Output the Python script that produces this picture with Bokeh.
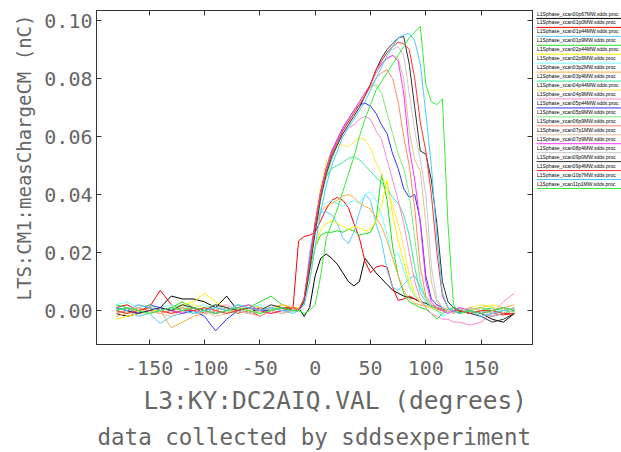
from bokeh.plotting import figure
from bokeh.models import (Range1d, FixedTicker, LinearAxis, Title, ColumnDataSource,
                          NumeralTickFormatter, LabelSet)
from bokeh.layouts import row
from bokeh.embed import file_html
from bokeh.resources import INLINE
from bokeh.core.properties import value

# ---------------- data (charge in pC, phase in degrees) ----------------
phase_deg = [-180, -170, -160, -150, -140, -130, -120, -110, -100, -90, -80, -70, -60, -50, -40, -30, -20,
             -15, -10, -5, 0, 5, 10, 15, 20, 25, 30, 35, 40, 45, 50, 55, 60, 65, 70, 75, 80, 85, 90, 95, 100,
             105, 110, 115, 120, 125, 130, 140, 150, 160, 170, 180]

file_names = [
    "L1Sphase_xcan00p67MW.sdds.proc", "L1Sphase_xcan01p0MW.sdds.proc", "L1Sphase_xcan01p44MW.sdds.proc",
    "L1Sphase_xcan01p9MW.sdds.proc", "L1Sphase_xcan02p44MW.sdds.proc", "L1Sphase_xcan02p9MW.sdds.proc",
    "L1Sphase_xcan03p2MW.sdds.proc", "L1Sphase_xcan03p4MW.sdds.proc", "L1Sphase_xcan04p44MW.sdds.proc",
    "L1Sphase_xcan04p9MW.sdds.proc", "L1Sphase_xcan05p44MW.sdds.proc", "L1Sphase_xcan05p9MW.sdds.proc",
    "L1Sphase_xcan06p9MW.sdds.proc", "L1Sphase_xcan07p1MW.sdds.proc", "L1Sphase_xcan07p9MW.sdds.proc",
    "L1Sphase_xcan08p4MW.sdds.proc", "L1Sphase_xcan09p0MW.sdds.proc", "L1Sphase_xcan09p4MW.sdds.proc",
    "L1Sphase_xcan10p7MW.sdds.proc", "L1Sphase_xcan11p1MW.sdds.proc",
]

line_colors = ["#000000", "#ff0000", "#55ccff", "#22dd22", "#ffee00", "#77ffff", "#ffaa44", "#33ee99",
               "#ffe844", "#ff88cc", "#3333ff", "#77ee77", "#ff8866", "#ddc0a0", "#ff33ff", "#c8c8c8",
               "#333333", "#ff3333", "#44ccff", "#33ee33"]

c00p67 = [-1, -2, -1, 0, 1, 5, 4, 4, 3, 1, 5, 0, -1, 1, 0, 1, 0,
          1, -2, 1, 12, 18, 19.5, 18, 16, 13, 10, 8.5, 10, 18, 15.5, 13, 11, 9, 7, 6, 5, 4.5, 4, 3, 2.5,
          1.5, 1, 0.5, 0, 0, -0.5, 0, -1, -3, -4, -1]
c01p0 = [1, 2, 0, 1, 7, 2, 0, 1, -1, 0, 1, -1, 0, -2, 0, 1, 1,
         24, 25.5, 26, 27, 31, 35, 38, 39, 38, 35.5, 30, 25, 17, 13, 15, 15.5, 15, 8, 3.5, 4, 5, 4, 3, 1.5,
         1, 0.5, 0, 0, -0.5, 0, -1, 0, -1, -1.5, -1]
c01p44 = [-1, 0, -2, -1, -4.5, -2, -1, 0, 1, -1, 0, 1, 0, -1, 1, 0, -1,
          0, 3, 20, 30, 34, 34, 33, 30, 25, 23, 27, 34, 40, 38, 30, 24, 14, 8, 7, 9, 11, 12, 8, 4,
          2, 1, 0, -1, 0, 0.5, 0, -1, 0, 1, 0.5]
c01p9 = [2, 1, 0, -1, 0, 1, 3, 1, 0, -1, 0, 2, 1, 3, 5, 2, 1,
         0, 2, 14, 22, 26, 27, 27, 27.5, 27, 28, 27.5, 26, 26.5, 27, 31, 47, 38, 22, 12, 6, 3, 2, 1, 0.5,
         -1, -3, -1, 0, 1, 0, -1, 0, 1, 0, -0.5]
c02p44 = [-3, -2, -1, 0, 0, -1, 2, 3, 6, 3, 1, 0, 2, 1, 0, 2, 1,
          1, 3, 10, 22, 28, 30, 31, 30, 29, 28, 29, 28.5, 27.5, 28, 31, 36, 45, 33, 24, 17, 9, 5, 3, 1.5,
          1, 0, 0.5, 1, 0, -1, 0, 1, 2, 1, 0]
c02p9 = [2, 3, 1, 0, 1, 2, 0, 1, 2, 0, -1, 0, 1, 2, 0, 1, 0,
         0, 4, 16, 30, 35, 37, 38, 37, 36, 37, 38, 37, 40, 41, 38, 33, 26, 18, 20, 14, 8, 5, 3, 2,
         1, 0, -2, -1, 0, 1, 0, -1, 0, 0, 1]
c03p2 = [0, -1, 0, 1, 0, -6, -4, -2, -1, 0, 1, 0, -1, 0, 1, 2, 1,
         1, 3, 15, 28, 34, 36, 37, 38, 39.5, 40, 39, 37, 36, 35, 32, 29, 24, 18, 12, 7, 4, 2.5, 2, 1.5,
         1, 2, 1, 0, 1, 0, 0.5, 1, 0, 1, 2]
c03p4 = [0, 1, -1, 0, 1, 0, 1, -1, 0, 1, 0, -1, 1, 0, 1, 0, 0,
         0, 3, 16, 30, 40, 46, 49, 50, 51, 52.5, 53, 52, 50, 48, 46, 44, 42, 39, 37, 33, 26, 15, 6, 3,
         1.5, 1, 0, 0.5, 1, 0, -1, 0, 1, 0, 0.5]
c04p44 = [-2, -1, 0, 1, 0, 1, 0, 2, 1, 0, -1, 1, 0, -1, 0, 1, 0,
          1, 4, 17, 31, 43, 51, 55, 57, 57, 56.5, 58, 59.5, 59, 56, 51, 47, 42, 36, 30, 22, 12, 6, 3, 1.5,
          1, 0.5, 1, 0, -1, 0, 1, 2, 1, 0, 1]
c04p9 = [1, 0, 2, 1, 0, -1, 0, 1, 0, 1, 2, 0, -1, 0, 1, 0, 1,
         0, 4, 17, 30, 41, 49, 54, 58, 61, 63, 64, 66, 67, 66, 62, 59, 52, 45, 38, 30, 20, 10, 4, 1,
         -1, -2, -3, -3, -4, -4, -5, -4, -1, 3, 6]
c05p44 = [0, 1, -1, 2, 1, 0, -1, 0, -2, -7, -3, 0, 1, 0, 0, 1, 0,
          0, 4, 17, 30, 41, 49, 55, 59, 63, 66, 69, 71, 71.5, 70.5, 68, 64, 61, 54, 49, 42, 39, 40, 31, 12,
          4, 2, 1, 0, 0, -1, 0, -1, -2, -1, 0]
c05p9 = [0, -1, 1, 2, 0, 1, 2, 0, 1, 2, 0, 1, 2, 1, 0, 1, 0,
         0, 3, 14, 27, 38, 46, 52, 57, 62, 66, 69, 72, 75, 77, 78, 75, 68, 61, 54, 49, 40, 25, 10, 4,
         1, 0, -1, 0, 1, 0, 0.5, 1, 0, -1, 0]
c06p9 = [-1, 0, 1, 0, -1, 0, 1, 0, -1, 0, 1, -1, 0, 1, 0, -1, 0,
         0, 4, 16, 29, 40, 48, 54, 58, 62, 65, 68, 71, 74, 77, 80, 82, 83, 80, 72, 60, 50, 35, 15, 5,
         2, 1, 0, 0, -1, 0, 1, 0, -1, 0, 1]
c07p1 = [-2, -1, 0, 0, -1, -2, 0, 1, 0, -2, -1, 0, -1, -2, 0, -1, 0,
         0, 4, 15, 28, 40, 48, 54, 58, 62, 65, 68, 71, 74, 78, 82, 85, 87, 88, 87, 80, 62, 52, 48, 30,
         10, 3, 1, 0, 0, 1, 0, -1, -2, -1, 0]
c07p9 = [1, 0, -1, 0, 1, 0, -1, 1, 0, -1, 0, 1, 2, 0, -1, 0, 0,
         0, 4, 17, 30, 41, 49, 55, 59, 63, 66, 69, 72, 75, 78, 82, 85, 87, 88, 86, 75, 56, 45, 30, 10,
         3, 1, 0, -1, 0, 1, 0, -1, 0, 1, 0]
c08p4 = [0, 1, 0, -1, 0, 1, 0, -1, -1, 0, 1, 0, -1, 0, 1, 0, 0,
         0, 3, 15, 28, 40, 48, 54, 58, 62, 65, 68, 71, 74, 78, 82, 86, 89, 90, 91, 88, 75, 62, 52, 40,
         15, 4, 1, 0, -1, 0, 1, 0, -1, 0, 1]
c09p0 = [1, 0, -1, 0, 1, 0, 2, 1, 0, 2, 1, 0, 1, 0, 2, 1, 0,
         0, 3, 14, 27, 39, 47, 53, 57, 61, 64, 67, 70, 74, 78, 83, 87, 90, 92, 94, 94.5, 85, 70, 55, 54,
         45, 30, 10, 3, 1, 0, -1, -2, -4, -3, -1]
c09p4 = [0, -1, 0, 1, 0, -1, 0, 0, 1, 0, -1, 0, 1, 0, -1, 0, 1,
         0, 4, 16, 29, 40, 48, 54, 58, 62, 65, 68, 71, 74, 78, 83, 86, 89, 91, 92.5, 92, 90, 80, 65, 55,
         40, 20, 5, 1, 0, 0, -1, 0, 0, -1, -1]
c10p7 = [1, 0, 2, 1, 0, 1, 0, -1, 0, 1, 0, 2, 1, 0, 1, 0, 0,
         0, 2, 10, 22, 34, 43, 50, 55, 60, 63, 66, 69, 72, 76, 80, 84, 88, 91, 94, 95, 95.5, 93, 85, 68,
         50, 25, 6, 1, 0, -1, 0, -2, -1, 0, 0.5]
c11p1 = [0, 1, 0, -1, 0, 1, 0, 1, 0, -1, 0, 1, 0, -1, 0, 1, 0,
         0, -1, 0, 2, 12, 25, 30, 35, 41, 47, 53, 60, 66, 71, 76, 79, 82, 85, 88, 91, 94, 96, 98, 78,
         72, 71, 73, 30, 2, -1, 0, -1, 0, 1, 0]

charge_series_pC = [c00p67, c01p0, c01p44, c01p9, c02p44, c02p9, c03p2, c03p4, c04p44, c04p9,
                    c05p44, c05p9, c06p9, c07p1, c07p9, c08p4, c09p0, c09p4, c10p7, c11p1]

x_ticks = [-150, -100, -50, 0, 50, 100, 150]
x_tick_labels = ["-150", "-100", "-50", "0", "50", "100", "150"]
y_ticks = [0.0, 0.02, 0.04, 0.06, 0.08, 0.1]
y_tick_labels = ["0.00", "0.02", "0.04", "0.06", "0.08", "0.10"]

x_title = "L3:KY:DC2AIQ.VAL (degrees)"
y_title = "LTS:CM1:measChargeCM (nC)"
sub_title = "data collected by sddsexperiment"

# ---------------- main plot ----------------
FONT = "DejaVu Sans Mono"
TXT = "#666666"
FRAME = "#333333"

p = figure(width=534, height=450, x_range=Range1d(-197.6, 196.4), y_range=Range1d(-0.0117, 0.10345),
           output_backend="svg", toolbar_location=None,
           min_border_left=96, min_border_right=2, min_border_top=10, min_border_bottom=106)
p.grid.visible = False
p.outline_line_color = FRAME
p.background_fill_color = "white"
p.border_fill_color = "white"

for ys, col in zip(charge_series_pC, line_colors):
    src = ColumnDataSource(dict(x=phase_deg, y=[v / 1000.0 for v in ys]))
    p.line("x", "y", source=src, line_color=col, line_width=1)

xa = p.xaxis[0]
xa.ticker = FixedTicker(ticks=x_ticks)
xa.major_label_overrides = dict(zip(x_ticks, x_tick_labels))
ya = p.yaxis[0]
ya.ticker = FixedTicker(ticks=y_ticks)
ya.formatter = NumeralTickFormatter(format="0.00")
ya.major_label_overrides = dict(zip(y_ticks, y_tick_labels))

for ax in (xa, ya):
    ax.major_tick_in = 5
    ax.major_tick_out = 0
    ax.minor_tick_line_color = None
    ax.axis_line_color = FRAME
    ax.major_tick_line_color = FRAME
    ax.major_label_text_font = FONT
    ax.major_label_text_font_size = "20px"
    ax.major_label_text_color = TXT
xa.major_label_standoff = 16
ya.major_label_standoff = 4

for side, ticks in (("above", x_ticks), ("right", y_ticks)):
    mirror = LinearAxis(ticker=FixedTicker(ticks=ticks), major_label_text_font_size="1px",
                        major_label_text_color=None, major_label_standoff=0,
                        major_tick_in=5, major_tick_out=0, minor_tick_line_color=None,
                        axis_line_color=FRAME, major_tick_line_color=FRAME)
    p.add_layout(mirror, side)

p.add_layout(Title(text=x_title, align="left", offset=47, text_font=FONT, text_font_size="24.5px",
                   text_font_style="normal", text_color=TXT, standoff=12), "below")
p.add_layout(Title(text=sub_title, align="left", offset=1, text_font=FONT, text_font_size="22.5px",
                   text_font_style="normal", text_color=TXT, standoff=2), "below")
p.add_layout(Title(text=y_title, align="left", offset=44, text_font=FONT, text_font_size="19px",
                   text_font_style="normal", text_color=TXT, standoff=14), "left")

# ---------------- legend panel (frame aligned with the main plot frame) ----------------
ENTRY_PX = 8.95
FIRST_PX = 3.0
FRAME_H = 334
leg = figure(width=87, height=450, x_range=Range1d(0, 87),
             y_range=Range1d((FRAME_H - FIRST_PX) / ENTRY_PX, -FIRST_PX / ENTRY_PX),
             output_backend="svg", toolbar_location=None, x_axis_type=None, y_axis_type=None,
             min_border_left=0, min_border_right=0, min_border_top=10, min_border_bottom=106)
leg.grid.visible = False
leg.outline_line_color = None
idx = list(range(len(file_names)))
lsrc = ColumnDataSource(dict(y=idx, yl=[i + 0.55 for i in idx], name=file_names, color=line_colors))
leg.add_layout(LabelSet(x=2.5, y="y", text="name", source=lsrc, text_font=value("Liberation Sans"),
                        text_font_size=value("5px"), text_baseline="middle", text_color="black"))
leg.segment(x0=2, x1=87, y0="yl", y1="yl", source=lsrc, line_color="color", line_width=1)

layout = row(p, leg)
open("out.html", "w").write(file_html(layout, INLINE))
